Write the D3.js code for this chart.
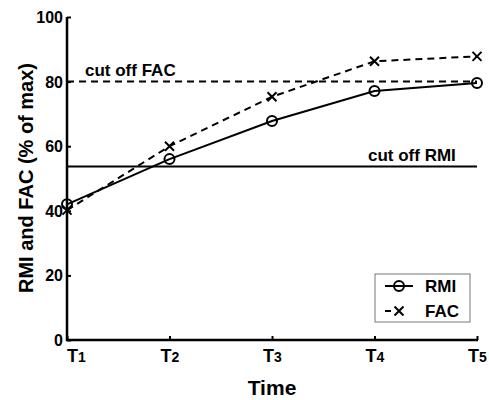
<!DOCTYPE html>
<html>
<head>
<meta charset="utf-8">
<script src="https://cdn.jsdelivr.net/npm/d3@7"></script>
<style>
  body { margin: 0; padding: 0; background: #fff; }
  svg { display: block; font-family: Arial, 'Liberation Sans', Helvetica, sans-serif; font-weight: bold; }
</style>
</head>
<body>
<div id="main"></div>
<script>
const timePoints = ['T1', 'T2', 'T3', 'T4', 'T5'];
const rmiValues = [42, 56, 67.8, 77.1, 79.6];
const facValues = [40.2, 60, 75.3, 86.3, 87.8];
const yTicks = [0, 20, 40, 60, 80, 100];
const cutOffRMI = 53.7;
const cutOffFAC = 80;

const WIDTH = 489, HEIGHT = 400;
const svg = d3.select('#main').append('svg').attr('width', WIDTH).attr('height', HEIGHT);

const scaleX = d3.scalePoint().domain(timePoints).range([67, 477]);
const scaleY = d3.scaleLinear().domain([0, 100]).range([340, 17]);

// axes, ticks pointing inward
const axisX = d3.axisBottom(scaleX).tickSizeInner(-4).tickSizeOuter(0).tickFormat('');
const axisY = d3.axisLeft(scaleY).tickValues(yTicks).tickSizeInner(-4).tickSizeOuter(0).tickFormat('');

const gx = svg.append('g').attr('transform', 'translate(0,340)').call(axisX);
const gy = svg.append('g').attr('transform', 'translate(67,0)').call(axisY);
[gx, gy].forEach(g => {
    g.select('.domain').attr('stroke', '#000').attr('stroke-width', 2.5);
    g.selectAll('.tick line').attr('stroke', '#000').attr('stroke-width', 2);
});
gy.select('.domain').attr('d', 'M0,17V341');
gx.select('.domain').attr('d', 'M66,0H478');

// y tick labels
svg.append('g').selectAll('text').data(yTicks).enter().append('text')
    .attr('x', 63)
    .attr('y', d => scaleY(d) + 6)
    .attr('text-anchor', 'end')
    .attr('font-size', 16)
    .text(d => d);

// x tick labels with subscript digit
const xLabels = svg.append('g').selectAll('text').data(timePoints).enter().append('text')
    .attr('x', d => Math.max(scaleX(d) - 9, 67))
    .attr('y', 362)
    .attr('font-size', 18);
xLabels.append('tspan').text(d => d[0]);
xLabels.append('tspan').attr('font-size', 14).text(d => d.slice(1));

// axis titles
svg.append('text')
    .attr('transform', 'translate(33,178) rotate(-90)')
    .attr('text-anchor', 'middle')
    .attr('font-size', 20)
    .text('RMI and FAC (% of max)');
svg.append('text')
    .attr('x', 272).attr('y', 395)
    .attr('text-anchor', 'middle')
    .attr('font-size', 21)
    .text('Time');

// cut-off lines
svg.append('line')
    .attr('x1', scaleX('T1')).attr('x2', scaleX('T5'))
    .attr('y1', scaleY(cutOffFAC)).attr('y2', scaleY(cutOffFAC))
    .attr('stroke', '#000').attr('stroke-width', 2).attr('stroke-dasharray', '7,5');
svg.append('line')
    .attr('x1', scaleX('T1')).attr('x2', scaleX('T5'))
    .attr('y1', scaleY(cutOffRMI)).attr('y2', scaleY(cutOffRMI))
    .attr('stroke', '#000').attr('stroke-width', 2);
svg.append('text').attr('x', 85).attr('y', 76).attr('font-size', 17).text('cut off FAC');
svg.append('text').attr('x', 368).attr('y', 161).attr('font-size', 17).text('cut off RMI');

// series
const line = d3.line().x((d, i) => scaleX(timePoints[i])).y(d => scaleY(d));
svg.append('path').datum(facValues).attr('d', line)
    .attr('fill', 'none').attr('stroke', '#000').attr('stroke-width', 2).attr('stroke-dasharray', '7,5');
svg.append('path').datum(rmiValues).attr('d', line)
    .attr('fill', 'none').attr('stroke', '#000').attr('stroke-width', 2);

const crossPath = (x, y, r) => `M${x - r},${y - r}L${x + r},${y + r}M${x - r},${y + r}L${x + r},${y - r}`;
svg.append('g').selectAll('path').data(facValues).enter().append('path')
    .attr('d', (d, i) => crossPath(scaleX(timePoints[i]), scaleY(d), 4.5))
    .attr('stroke', '#000').attr('stroke-width', 2);
svg.append('g').selectAll('circle').data(rmiValues).enter().append('circle')
    .attr('cx', (d, i) => scaleX(timePoints[i]))
    .attr('cy', d => scaleY(d))
    .attr('r', 5)
    .attr('fill', 'none').attr('stroke', '#000').attr('stroke-width', 2);

// legend
const legend = svg.append('g').attr('transform', 'translate(375,274)');
legend.append('rect').attr('width', 95).attr('height', 48)
    .attr('fill', '#fff').attr('stroke', '#777').attr('stroke-width', 1);
legend.append('line').attr('x1', 10).attr('x2', 38).attr('y1', 12).attr('y2', 12)
    .attr('stroke', '#000').attr('stroke-width', 2);
legend.append('circle').attr('cx', 24).attr('cy', 12).attr('r', 5)
    .attr('fill', 'none').attr('stroke', '#000').attr('stroke-width', 2);
legend.append('line').attr('x1', 10).attr('x2', 30).attr('y1', 37).attr('y2', 37)
    .attr('stroke', '#000').attr('stroke-width', 2).attr('stroke-dasharray', '6,20');
legend.append('path').attr('d', crossPath(24, 37, 4.5)).attr('stroke', '#000').attr('stroke-width', 2);
legend.append('text').attr('x', 50).attr('y', 18).attr('font-size', 17).text('RMI');
legend.append('text').attr('x', 50).attr('y', 43).attr('font-size', 17).text('FAC');
</script>
</body>
</html>
